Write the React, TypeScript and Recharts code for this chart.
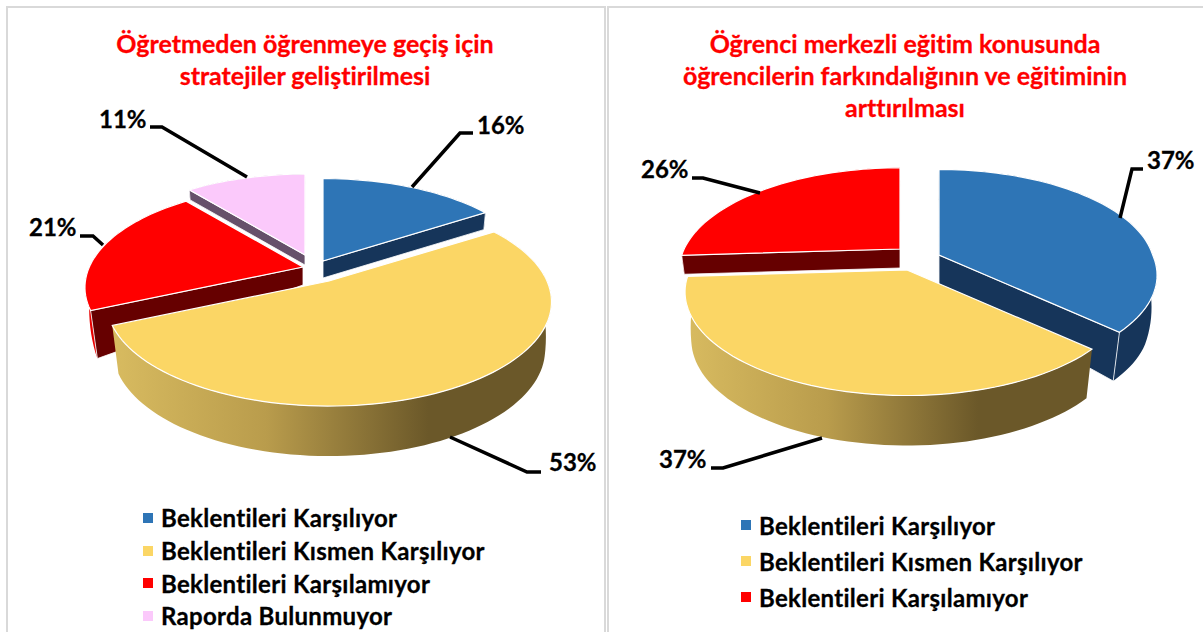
import React from "react";
import { PieChart, Pie, Legend } from "recharts";

const leftCategories = ["Beklentileri Karşılıyor", "Beklentileri Kısmen Karşılıyor", "Beklentileri Karşılamıyor", "Raporda Bulunmuyor"];
const leftValues = [16, 53, 21, 11];
const rightCategories = ["Beklentileri Karşılıyor", "Beklentileri Kısmen Karşılıyor", "Beklentileri Karşılamıyor"];
const rightValues = [37, 37, 26];
const leftTitle = ["Öğretmeden öğrenmeye geçiş için", "stratejiler geliştirilmesi"];
const rightTitle = ["Öğrenci merkezli eğitim konusunda", "öğrencilerin farkındalığının ve eğitiminin", "arttırılması"];

const FONT = "Lato, 'Open Sans', sans-serif";
const YELLOW = "Beklentileri Kısmen Karşılıyor";
const textLook: any = { fontVariantLigatures: "none" };

const topColors: Record<string, string> = {
  "Beklentileri Karşılıyor": "#2E75B6",
  "Beklentileri Kısmen Karşılıyor": "#FBD665",
  "Beklentileri Karşılamıyor": "#FF0000",
  "Raporda Bulunmuyor": "#FBC9FB",
};
const faceColors: Record<string, string> = {
  "Beklentileri Karşılıyor": "#16355A",
  "Beklentileri Kısmen Karşılıyor": "#6B5829",
  "Beklentileri Karşılamıyor": "#660000",
  "Raporda Bulunmuyor": "#66506A",
};
const rimColors: Record<string, string> = {
  "Beklentileri Karşılıyor": "#16355A",
  "Beklentileri Kısmen Karşılıyor": "url(#yellowWall)",
  "Beklentileri Karşılamıyor": "#E80000",
  "Raporda Bulunmuyor": "#66506A",
};

// explode offset, shrink, perspective (back/front) and wall height of each slice
const leftLook: Record<string, any> = {
  "Beklentileri Karşılıyor": { dx: -5, dy: -20, k: 0.98, p: 0.19, pf: 0.19, wall: 17 },
  "Beklentileri Kısmen Karşılıyor": { dx: 1, dy: 0, k: 1, p: 0.2, pf: 0.2, wall: 19 },
  "Beklentileri Karşılamıyor": { dx: -25, dy: -14, k: 0.98, p: 0.2, pf: 0.2, wall: 18 },
  "Raporda Bulunmuyor": { dx: -23, dy: -26, k: 0.97, p: 0.2, pf: 0.2, wall: 10 },
};
const rightLook: Record<string, any> = {
  "Beklentileri Karşılıyor": { dx: 34, dy: -15, k: 0.98, p: 0.14, pf: 0.2, wall: 30 },
  "Beklentileri Kısmen Karşılıyor": { dx: 2, dy: 0, k: 0.995, p: 0.212, pf: 0.212, wall: 19 },
  "Beklentileri Karşılamıyor": { dx: -5, dy: -21, k: 0.99, p: 0.212, pf: 0.212, wall: 19 },
};

// leader lines and label spots, chart local pixels
const leftCallouts = [
  { line: "412,187 460,133 473,133", x: 477, y: 134 },
  { line: "450,437 527,472 541,472", x: 549, y: 471 },
  { line: "103,245 93,236 80,236", x: 29, y: 236 },
  { line: "247,177 162,127 150,127", x: 99, y: 128 },
];
const rightCallouts = [
  { line: "516,218 528,169 539,169", x: 543, y: 169 },
  { line: "218,438 119,468 107,468", x: 55, y: 468 },
  { line: "156,193 99,178 88,178", x: 37, y: 178 },
];

function depthAt(v: number, base: number) {
  if (v >= 0.1) return base;
  if (v >= -0.25) return base + ((48 - base) * (0.1 - v)) / 0.35;
  return 48 + Math.min(2, ((-0.25 - v) / 0.75) * 2);
}

function makeShape(look: Record<string, any>, ratio: number, only: (n: string) => boolean) {
  return function WedgeShape(props: any) {
    const { name, cx, cy, outerRadius, startAngle, endAngle } = props;
    if (!only(name)) return <g />;
    const s = look[name];
    const ry = outerRadius * ratio;
    const apexX = cx + s.dx;
    const apexY = cy + s.dy;
    const apexDepth = depthAt(-s.dy / ry, s.wall);
    const rim = (deg: number) => {
      const t = ((90 - deg) * Math.PI) / 180;
      const u = Math.sin(t);
      const v = Math.cos(t);
      const w = 1 + (v > 0 ? s.p : s.pf) * v;
      const x = apexX + (outerRadius * s.k * u) / w;
      const d = depthAt(v * s.k - s.dy / ry, s.wall);
      return { x, y: apexY - (ry * s.k * v) / w, d, lowX: x - (d * 0.13 * (x - cx)) / outerRadius };
    };
    const pts: any[] = [];
    const steps = Math.max(2, Math.ceil(Math.abs(startAngle - endAngle) / 2));
    for (let i = 0; i <= steps; i++) pts.push(rim(startAngle + ((endAngle - startAngle) * i) / steps));
    const arc = pts.map((p) => `${p.x},${p.y}`).join(" L");
    const lower = [...pts].reverse().map((p) => `${p.lowX},${p.y + p.d}`).join(" L");
    const face = (p: any) =>
      `M${apexX},${apexY} L${p.x},${p.y} L${p.lowX},${p.y + p.d} L${apexX},${apexY + apexDepth} Z`;
    // the face nearer the viewer goes on top of the other one
    const ends = [pts[0], pts[pts.length - 1]].sort((a, b) => a.y - b.y);
    return (
      <g>
        <defs>
          <linearGradient id="yellowWall" x1="0" y1="0" x2="1" y2="0">
            <stop offset="0" stopColor="#D8BB60" />
            <stop offset="0.35" stopColor="#B99C4C" />
            <stop offset="0.72" stopColor="#6B5829" />
            <stop offset="1" stopColor="#6B5829" />
          </linearGradient>
        </defs>
        <path d={`M${arc} L${lower} Z`} fill={rimColors[name]} stroke="none" />
        {name !== YELLOW &&
          ends.map((p, i) => <path key={i} d={face(p)} fill={faceColors[name]} stroke="#fff" strokeWidth={0.8} />)}
        <path d={`M${apexX},${apexY} L${arc} Z`} fill={topColors[name]} stroke="#fff" strokeWidth={1.2} />
      </g>
    );
  };
}

function legendContent(rowHeight: number) {
  return function LegendRows({ payload }: any) {
    const seen = new Set();
    const items = (payload || []).filter((item: any) => {
      if (seen.has(item.value)) return false;
      seen.add(item.value);
      return true;
    });
    return (
      <div>
        {items.map((item: any) => (
          <div key={item.value} style={{ ...textLook, height: rowHeight, display: "flex", alignItems: "center", fontFamily: FONT, fontWeight: 700, fontSize: 24, letterSpacing: 0.3, WebkitTextStroke: "0.3px #000", color: "#000", whiteSpace: "nowrap" }}>
            <span style={{ width: 10, height: 10, marginRight: 8, background: item.color, display: "inline-block" }} />
            {item.value}
          </div>
        ))}
      </div>
    );
  };
}

function SlicePie({ width, left, categories, values, title, titleX, titleY, look, callouts, ratio, cx, cy, radius, legendLeft, legendTop, rowHeight }: any) {
  const rows = categories.map((name: string, i: number) => ({ name, value: values[i], fill: topColors[name] }));
  const backShape = makeShape(look, ratio, (n) => n !== YELLOW);
  const frontShape = makeShape(look, ratio, (n) => n === YELLOW);
  const renderLabel = (p: any) => {
    const c = callouts[categories.indexOf(p.name)];
    return (
      <g>
        <polyline points={c.line} fill="none" stroke="#000" strokeWidth={3.5} />
        <text x={c.x} y={c.y} fontFamily={FONT} fontWeight={700} fontSize={24} fill="#000" stroke="#000" strokeWidth={0.3}>{`${p.value}%`}</text>
      </g>
    );
  };
  return (
    <div style={{ position: "absolute", left, top: 0 }}>
      <PieChart width={width} height={632} margin={{ top: 0, right: 0, bottom: 0, left: 0 }}>
        <Pie data={rows} dataKey="value" nameKey="name" cx={cx} cy={cy} outerRadius={radius} startAngle={90} endAngle={-270} isAnimationActive={false} shape={backShape} activeShape={backShape} inactiveShape={backShape} />
        <Pie data={rows} dataKey="value" nameKey="name" cx={cx} cy={cy} outerRadius={radius} startAngle={90} endAngle={-270} isAnimationActive={false} legendType="none" shape={frontShape} activeShape={frontShape} inactiveShape={frontShape} label={renderLabel} labelLine={false} />
        {title.map((line: string, i: number) => (
          <text key={line} x={titleX} y={titleY + i * 32} textAnchor="middle" fontFamily={FONT} fontWeight={700} fontSize={25} fill="#FF0000" stroke="#FF0000" strokeWidth={0.3} style={textLook}>{line}</text>
        ))}
        <Legend verticalAlign="bottom" itemSorter={null} content={legendContent(rowHeight)} wrapperStyle={{ left: legendLeft, top: legendTop, bottom: "auto", width: 440 }} />
      </PieChart>
    </div>
  );
}

export default function App() {
  return (
    <div style={{ position: "absolute", left: 0, top: 0, width: 1203, height: 632, overflow: "hidden", background: "#fff" }}>
      <div style={{ position: "absolute", left: 6, top: 6, width: 596, height: 650, border: "2px solid #D9D9D9" }} />
      <div style={{ position: "absolute", left: 607, top: 6, width: 620, height: 650, border: "2px solid #D9D9D9" }} />
      <SlicePie width={604} left={0} categories={leftCategories} values={leftValues} title={leftTitle} titleX={305} titleY={53} look={leftLook} callouts={leftCallouts} ratio={0.459} cx={328} cy={281} radius={218} legendLeft={143} legendTop={501.5} rowHeight={32.7} />
      <SlicePie width={599} left={604} categories={rightCategories} values={rightValues} title={rightTitle} titleX={301} titleY={53} look={rightLook} callouts={rightCallouts} ratio={0.456} cx={301} cy={270} radius={218} legendLeft={137} legendTop={507} rowHeight={36} />
    </div>
  );
}
